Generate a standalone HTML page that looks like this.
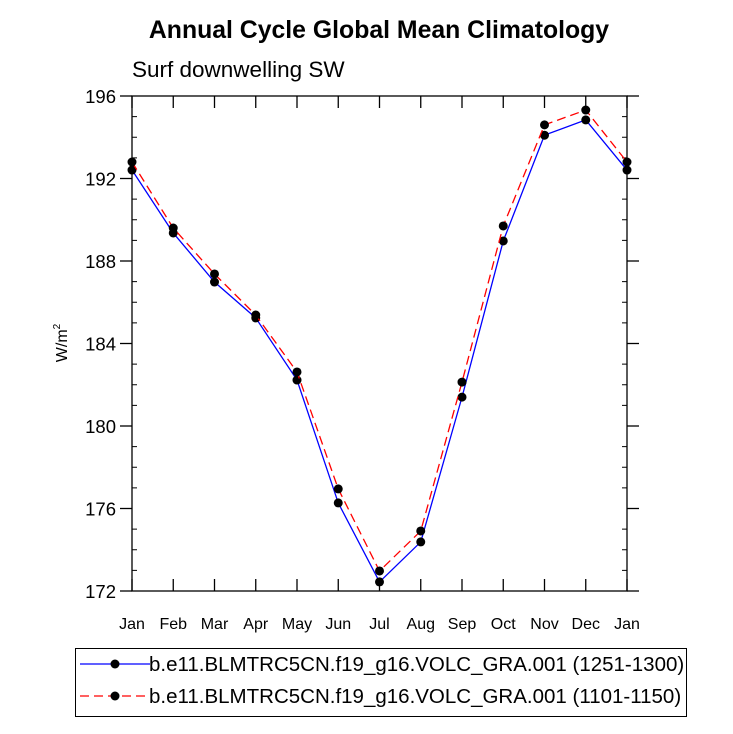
<!DOCTYPE html>
<html><head><meta charset="utf-8"><style>
body{margin:0;background:#fff}
svg{display:block;font-family:"Liberation Sans",Helvetica,Arial,sans-serif}
</style></head><body>
<svg id="chart" width="733" height="734" viewBox="0 0 733 734" xmlns="http://www.w3.org/2000/svg">
<text x="379" y="38" text-anchor="middle" font-size="24.8" font-weight="bold">Annual Cycle Global Mean Climatology</text>
<text x="132" y="77" font-size="22.5">Surf downwelling SW</text>
<text transform="translate(67,343) rotate(-90)" text-anchor="middle" font-size="16">W/m<tspan font-size="10" dy="-7">2</tspan></text>
<g id="axes"></g>
<g id="series"></g>
<g id="legend">
<rect x="75.5" y="648.5" width="611" height="68" fill="none" stroke="#000" stroke-width="1"/>
<g>
<line x1="80" y1="664" x2="150" y2="664" stroke="#0000ff" stroke-width="1.3"/>
<circle cx="115" cy="664" r="4.5" fill="#000"/>
<text x="149" y="671" font-size="20.5">b.e11.BLMTRC5CN.f19_g16.VOLC_GRA.001 (1251-1300)</text>
</g>
<g>
<line x1="80" y1="696" x2="150" y2="696" stroke="#ff0000" stroke-width="1.3" stroke-dasharray="9,5"/>
<circle cx="115" cy="696" r="4.5" fill="#000"/>
<text x="149" y="703" font-size="20.5">b.e11.BLMTRC5CN.f19_g16.VOLC_GRA.001 (1101-1150)</text>
</g>
</g>
</svg>
<script>
const months = ["Jan","Feb","Mar","Apr","May","Jun","Jul","Aug","Sep","Oct","Nov","Dec","Jan"];
const series1251 = [192.41,189.36,186.98,185.24,182.23,176.27,172.44,174.38,181.40,188.97,194.10,194.84,192.41];
const series1101 = [192.80,189.60,187.37,185.38,182.62,176.95,172.97,174.91,182.13,189.70,194.60,195.32,192.80];
const yTicks = [172,176,180,184,188,192,196];
const yMin = 172, yMax = 196;
const L=132,R=627,T=96,B=591;
const NS="http://www.w3.org/2000/svg";
const xs = i => L + (R-L)*i/(months.length-1);
const ys = v => B - (B-T)*(v-yMin)/(yMax-yMin);
function mk(tag, attrs, parent){const e=document.createElementNS(NS,tag);for(const k in attrs)e.setAttribute(k,attrs[k]);parent.appendChild(e);return e;}
const axes=document.getElementById('axes');
const frame=mk('rect',{x:L,y:T,width:R-L,height:B-T,fill:'none',stroke:'#000','stroke-width':1.3},axes);


yTicks.forEach(v=>{
  const y=ys(v);
  const t=mk('line',{x1:L-12,y1:y,x2:L,y2:y,stroke:'#000','stroke-width':1.3},axes);
  
  
  mk('line',{x1:R,y1:y,x2:R+12,y2:y,stroke:'#000','stroke-width':1.3},axes);
  const lb=mk('text',{x:L-16,y:y+7,'text-anchor':'end','font-size':18.5},axes);
  lb.textContent=v;
  
  
});
for(let v=yMin;v<=yMax;v++){ if((v-yMin)%4===0)continue; const y=ys(v);
  mk('line',{x1:L,y1:y,x2:L+5,y2:y,stroke:'#000','stroke-width':1},axes);
  mk('line',{x1:R-5,y1:y,x2:R,y2:y,stroke:'#000','stroke-width':1},axes);
}
months.forEach((m,i)=>{
  const x=xs(i);
  mk('line',{x1:x,y1:B,x2:x,y2:B-12,stroke:'#000','stroke-width':1.3},axes);
  mk('line',{x1:x,y1:T,x2:x,y2:T+12,stroke:'#000','stroke-width':1.3},axes);
  const lb=mk('text',{x:x,y:629,'text-anchor':'middle','font-size':16},axes);
  lb.textContent=m;
  
  
});
const sg=document.getElementById('series');
function draw(vals,color,dash,name){
  const g=mk('g',{},sg);
  
  
  const p=mk('polyline',{points:vals.map((v,i)=>xs(i)+','+ys(v)).join(' '),fill:'none',stroke:color,'stroke-width':1.3},g);
  if(dash)p.setAttribute('stroke-dasharray',dash);
  vals.forEach((v,i)=>{
    const c=mk('circle',{cx:xs(i),cy:ys(v),r:4.5,fill:'#000'},g);
    
    
  });
}
draw(series1251,'#0000ff',null,'series-1251-1300');
draw(series1101,'#ff0000','9,5','series-1101-1150');
</script>
</body></html>
